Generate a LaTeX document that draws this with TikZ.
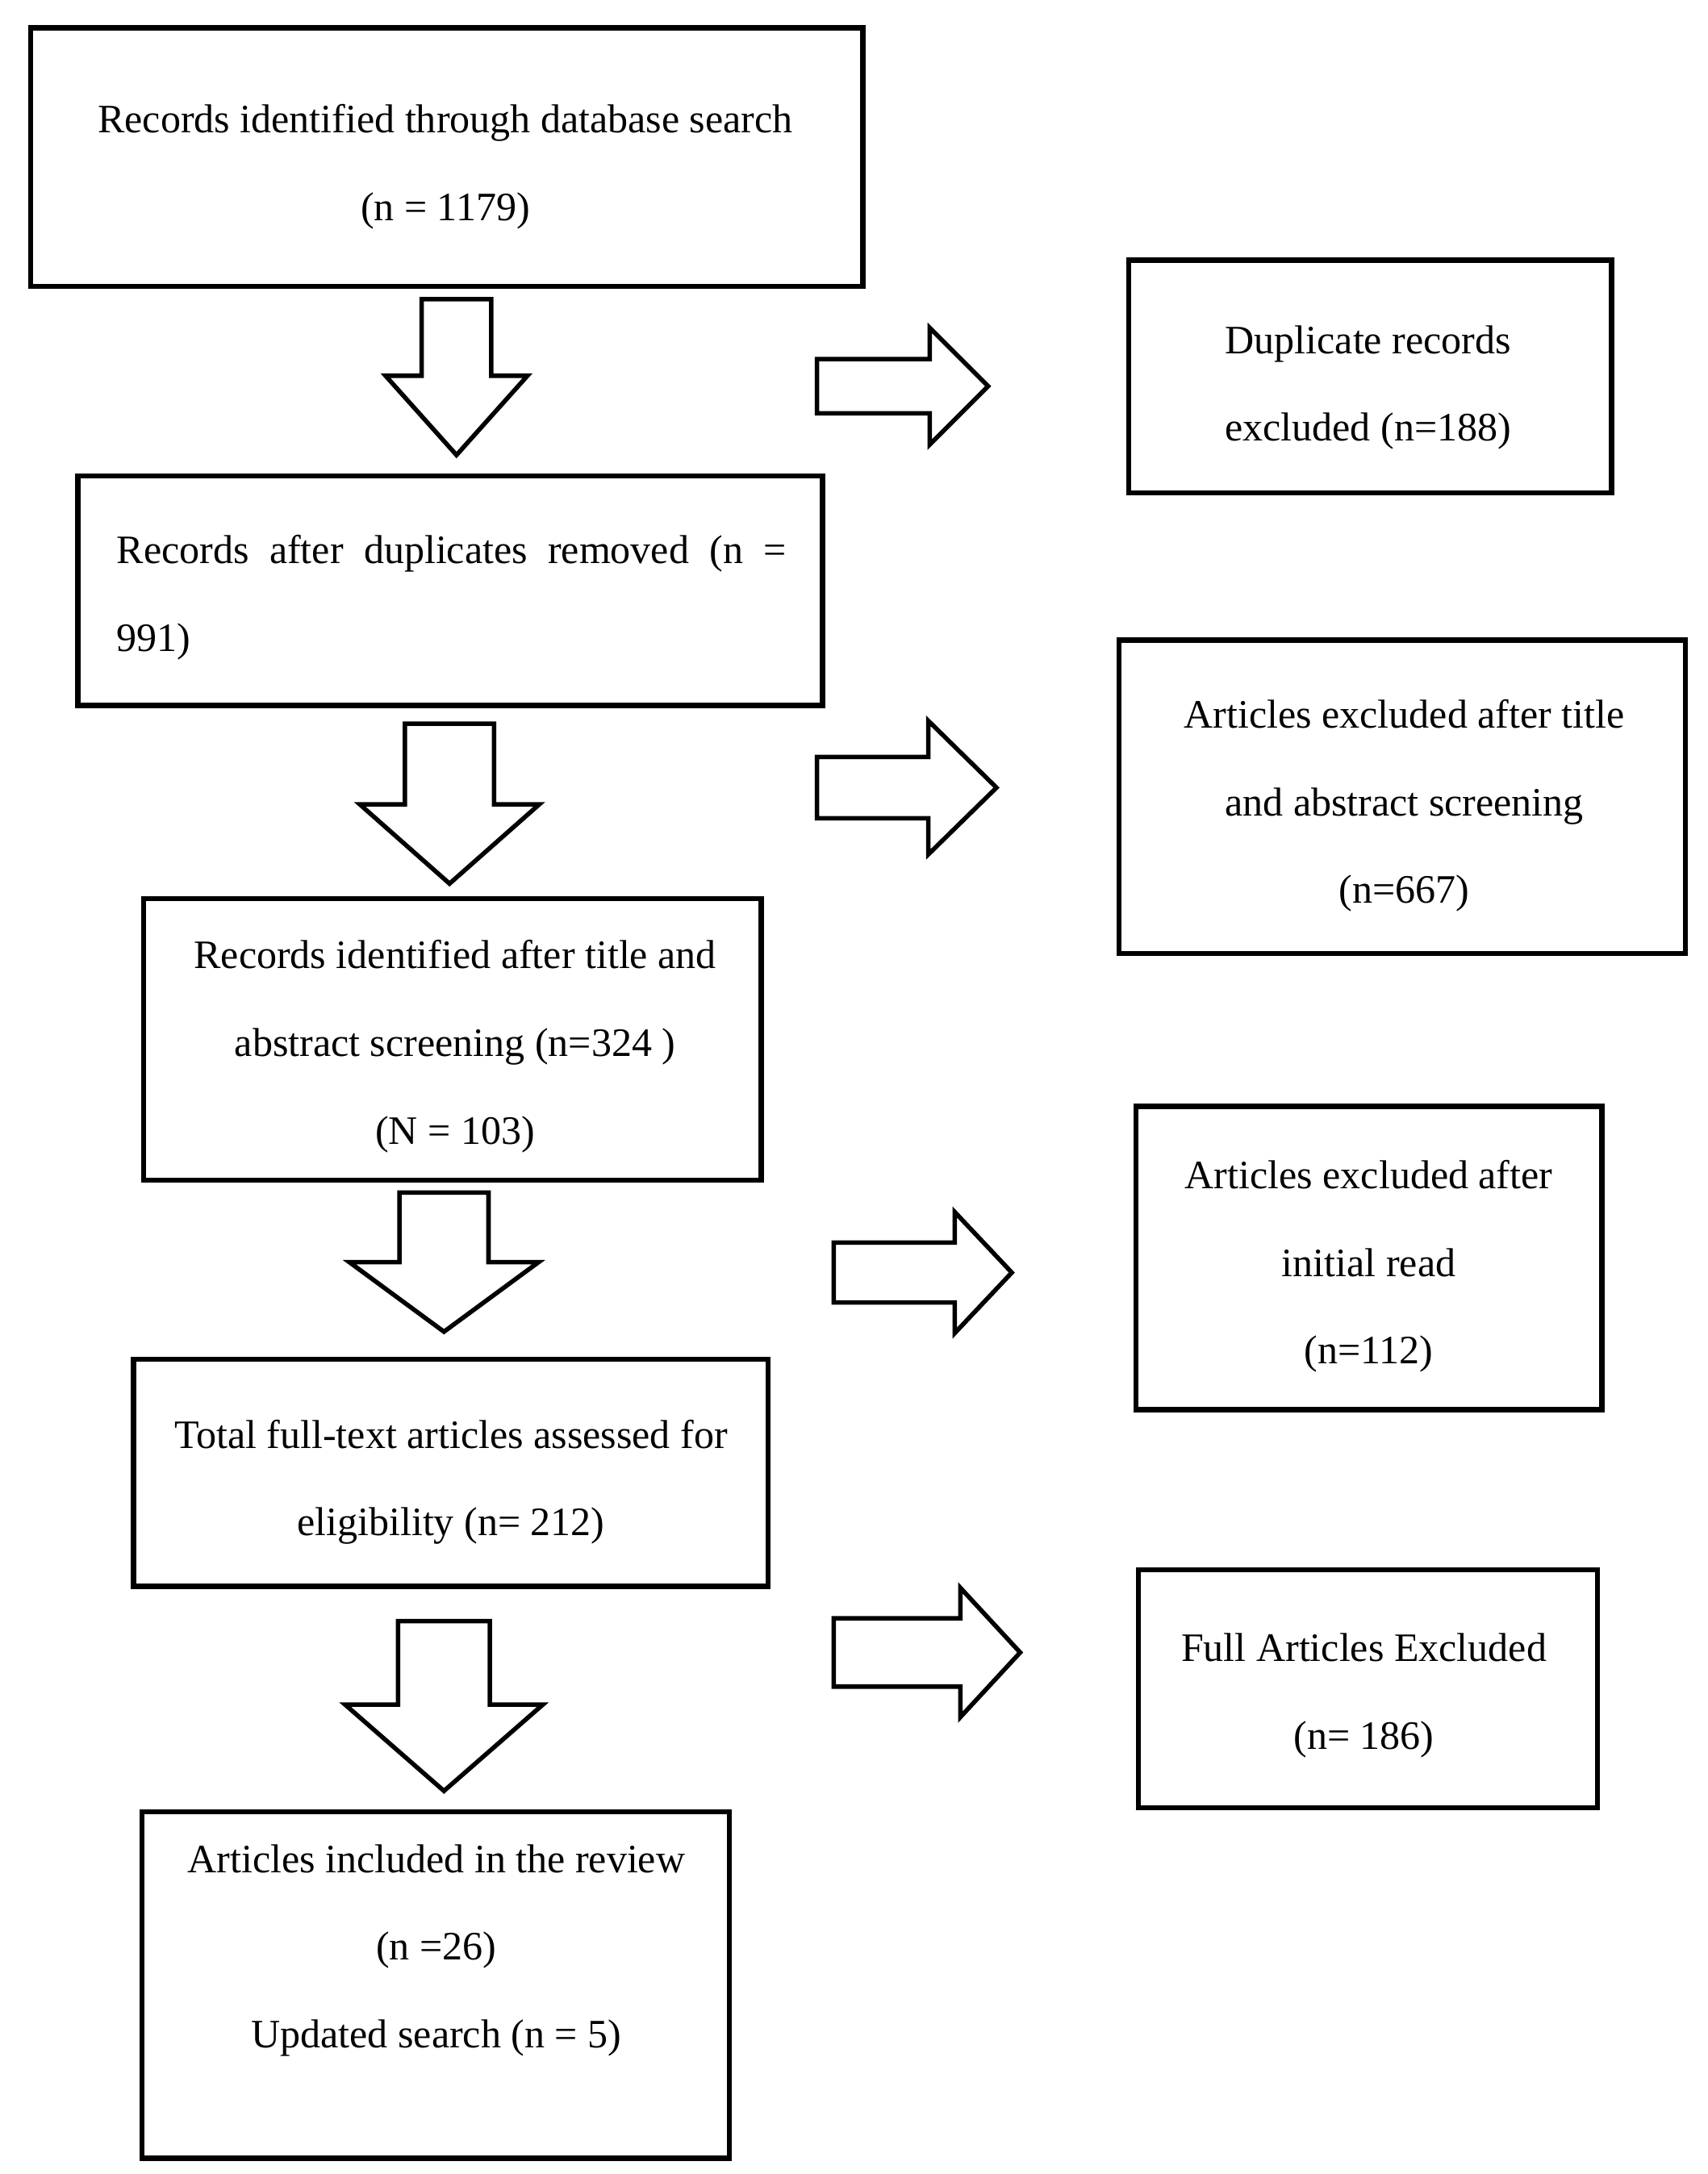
\documentclass[tikz,border=0pt]{standalone}
\usepackage{fontspec}
\setmainfont{Liberation Serif}
\tikzset{
  box/.style={draw=black, line width=1.8pt, fill=white, inner sep=0pt, outer sep=0pt},
  txt/.style={inner sep=0pt, align=center, font=\fontsize{14.5}{31.5}\selectfont},
  blk/.style={draw=black, line width=1.6pt, fill=white, line join=miter}
}
\newcommand{\dnarr}[6]{% cx, top, shaft half, head y, head half, tip
  \draw[blk] ({#1-#3},#2) -- ({#1+#3},#2) -- ({#1+#3},#4) -- ({#1+#5},#4) -- (#1,#6) -- ({#1-#5},#4) -- ({#1-#3},#4) -- cycle;}
\newcommand{\rtarr}[6]{% left x, cy, shaft half, head x, head half, tip x
  \draw[blk] (#1,{#2-#3}) -- (#4,{#2-#3}) -- (#4,{#2-#5}) -- (#6,#2) -- (#4,{#2+#5}) -- (#4,{#2+#3}) -- (#1,{#2+#3}) -- cycle;}
\begin{document}
\begin{tikzpicture}[x=0.5pt, y=-0.5pt]
\useasboundingbox (0,0) rectangle (1227.2,1562.3);
\fill[white] (0,0) rectangle (1227.2,1562.3);

% boxes
\node[box, minimum width=299pt, minimum height=93pt] (b1) at (321,113) {};
\node[box, minimum width=173.5pt, minimum height=83.5pt] (e1) at (984.5,270.5) {};
\node[box, minimum width=267.5pt, minimum height=82.5pt] (b2) at (323.5,424.5) {};
\node[box, minimum width=203.5pt, minimum height=112.5pt] (e2) at (1007.5,572.5) {};
\node[box, minimum width=222pt, minimum height=101pt] (b3) at (325,747) {};
\node[box, minimum width=167.5pt, minimum height=109pt] (e3) at (983.5,904) {};
\node[box, minimum width=228pt, minimum height=81.5pt] (b4) at (324,1058.5) {};
\node[box, minimum width=165pt, minimum height=85.5pt] (e4) at (983,1213.5) {};
\node[box, minimum width=211pt, minimum height=124.5pt] (b5) at (313,1426.5) {};

% texts
\node[txt] (t1) at (320,120) {Records identified through database search\\(n = 1179)};
\node[txt] (te1) at (983,278.5) {Duplicate records\\excluded (n=188)};
\node[txt, align=left] (t2) at (324.5,429.5) {\hbox to 240.5pt{Records\hfill after\hfill duplicates\hfill removed\hfill (n\hfill =}\\991)};
\node[txt] (te2) at (1009,579) {Articles excluded after title\\and abstract screening\\(n=667)};
\node[txt] (t3) at (327,752) {Records identified after title and\\abstract screening (n=324 )\\(N = 103)};
\node[txt] (te3) at (983.5,910) {Articles excluded after\\initial read\\(n=112)};
\node[txt] (t4) at (324,1065) {Total full-text articles assessed for\\eligibility (n= 212)};
\node[txt] (te4) at (980,1218.5) {Full Articles Excluded\\(n= 186)};
\node[txt] (t5) at (313.5,1401.5) {Articles included in the review\\(n =26)\\Updated search (n = 5)};

% down block arrows
\dnarr{328}{215}{25}{270}{51}{327}
\dnarr{323}{520}{32}{578}{64.5}{635}
\dnarr{319}{857}{32}{907}{68}{957}
\dnarr{319}{1165}{33}{1225}{71}{1287}

% right block arrows
\rtarr{587}{277.5}{19.5}{668}{42}{710}
\rtarr{587}{566}{22}{667}{48}{716}
\rtarr{599}{914.5}{21.5}{686}{43.5}{727}
\rtarr{599}{1187.5}{24.5}{690}{46.5}{733}
\end{tikzpicture}
\end{document}
